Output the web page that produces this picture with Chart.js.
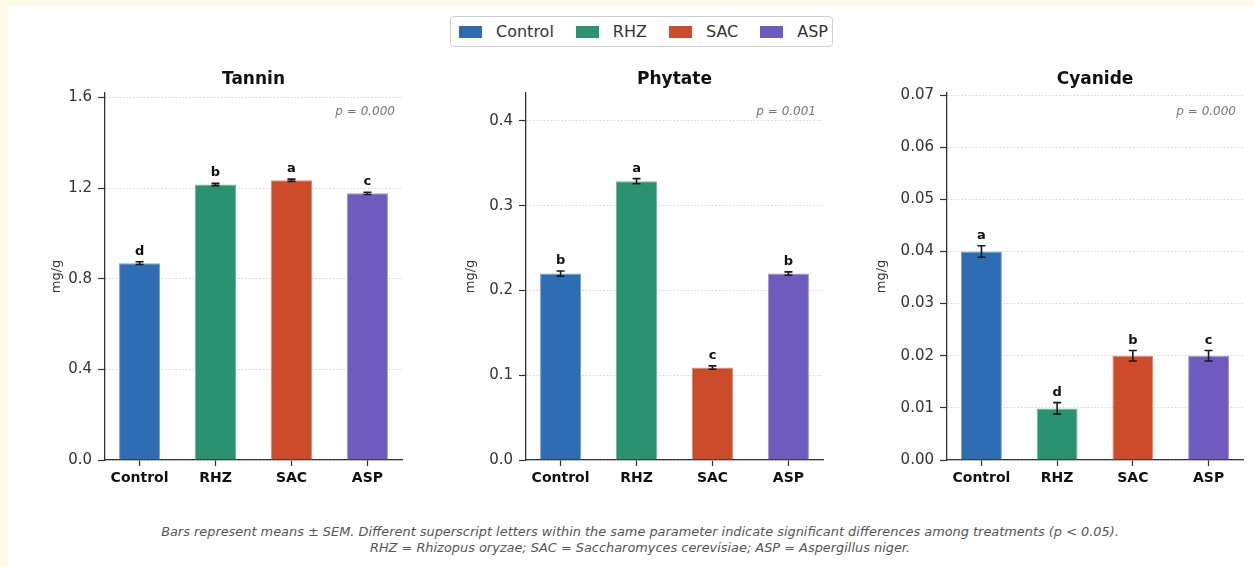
<!DOCTYPE html>
<html>
<head>
<meta charset="utf-8">
<script src="https://cdn.jsdelivr.net/npm/chart.js@4.4.1/dist/chart.umd.min.js"></script>
<style>
html, body { margin: 0; padding: 0; background: #fffbe6; width: 1255px; height: 567px; overflow: hidden; }
#page { position: absolute; left: 8px; top: 6px; width: 1247px; height: 561px; background: #ffffff; }
canvas { position: absolute; }
#legend { position: absolute; left: 450px; top: 16px; height: 29px; border: 1px solid #cfcfcf; border-radius: 4px;
  background: #fff; display: flex; align-items: center; padding: 0 4px 0 8px; box-sizing: content-box;
  font-family: "DejaVu Sans", sans-serif; font-size: 16px; color: #333; }
#legend .item { display: flex; align-items: center; margin-right: 22px; }
#legend .item:last-child { margin-right: 0; }
#legend .sw { width: 23px; height: 12px; margin-right: 14px; }
#foot { position: absolute; left: 0; width: 1280px; top: 524px; text-align: center;
  font-family: "DejaVu Sans", sans-serif; font-style: italic; font-size: 12.9px; line-height: 16px; color: #555; }
</style>
</head>
<body>
<div id="page"></div>
<div id="legend"></div>
<canvas id="c0"></canvas>
<canvas id="c1"></canvas>
<canvas id="c2"></canvas>
<div id="foot">Bars represent means ± SEM. Different superscript letters within the same parameter indicate significant differences among treatments (p &lt; 0.05).<br>RHZ = Rhizopus oryzae; SAC = Saccharomyces cerevisiae; ASP = Aspergillus niger.</div>
<script>
// ---- data ----
const categories = ['Control', 'RHZ', 'SAC', 'ASP'];
const barColors = ['#2E6DB4', '#2A9270', '#CC4C2A', '#6F5BBE'];
const panelTitles = ['Tannin', 'Phytate', 'Cyanide'];
const pLabels = ['p = 0.000', 'p = 0.001', 'p = 0.000'];

const tanninMeans = [0.869, 1.216, 1.235, 1.177];
const tanninSem = [0.006, 0.005, 0.005, 0.005];
const tanninLetters = ['d', 'b', 'a', 'c'];
const tanninTicks = [0.0, 0.4, 0.8, 1.2, 1.6];

const phytateMeans = [0.220, 0.329, 0.109, 0.220];
const phytateSem = [0.003, 0.003, 0.002, 0.002];
const phytateLetters = ['b', 'a', 'c', 'b'];
const phytateTicks = [0.0, 0.1, 0.2, 0.3, 0.4];

const cyanideMeans = [0.0400, 0.0099, 0.0200, 0.0200];
const cyanideSem = [0.0011, 0.0011, 0.0010, 0.0010];
const cyanideLetters = ['a', 'd', 'b', 'c'];
const cyanideTicks = [0.00, 0.01, 0.02, 0.03, 0.04, 0.05, 0.06, 0.07];

// ---- legend ----
const legendEl = document.getElementById('legend');
categories.forEach((c, i) => {
  const it = document.createElement('div'); it.className = 'item';
  const sw = document.createElement('div'); sw.className = 'sw'; sw.style.background = barColors[i];
  const tx = document.createElement('span'); tx.textContent = c;
  it.appendChild(sw); it.appendChild(tx); legendEl.appendChild(it);
});

const FONT = '"DejaVu Sans", sans-serif';

const panels = [
  { id: 'c0', left: 45, yw: 60, width: 367, means: tanninMeans, sem: tanninSem, letters: tanninLetters, ticks: tanninTicks, dec: 1, ymax: 1.62 },
  { id: 'c1', left: 459, yw: 67, width: 374, means: phytateMeans, sem: phytateSem, letters: phytateLetters, ticks: phytateTicks, dec: 1, ymax: 0.433 },
  { id: 'c2', left: 870, yw: 77, width: 383, means: cyanideMeans, sem: cyanideSem, letters: cyanideLetters, ticks: cyanideTicks, dec: 2, ymax: 0.0704 }
];
const CANVAS_TOP = 60, CANVAS_H = 440;

function lighten(hex, amt) {
  const n = parseInt(hex.slice(1), 16);
  const r = (n >> 16) & 255, g = (n >> 8) & 255, b = n & 255;
  const f = v => Math.round(v + (255 - v) * amt);
  return `rgb(${f(r)},${f(g)},${f(b)})`;
}

panels.forEach((p, k) => {
  const cv = document.getElementById(p.id);
  cv.width = p.width; cv.height = CANVAS_H;
  cv.style.left = p.left + 'px'; cv.style.top = CANVAS_TOP + 'px';
  cv.style.width = p.width + 'px'; cv.style.height = CANVAS_H + 'px';

  const annot = {
    id: 'annot' + k,
    afterDatasetsDraw(chart) {
      const { ctx, chartArea, scales: { x, y } } = chart;
      ctx.save();
      p.means.forEach((m, i) => {
        const px = x.getPixelForValue(i);
        const yt = y.getPixelForValue(m + p.sem[i]);
        const yb = y.getPixelForValue(m - p.sem[i]);
        ctx.strokeStyle = '#1a1a1a'; ctx.lineWidth = 1.6;
        ctx.beginPath();
        ctx.moveTo(px, yt); ctx.lineTo(px, yb);
        ctx.moveTo(px - 4, yt); ctx.lineTo(px + 4, yt);
        ctx.moveTo(px - 4, yb); ctx.lineTo(px + 4, yb);
        ctx.stroke();
        ctx.fillStyle = '#111';
        ctx.font = 'bold 13px ' + FONT;
        ctx.textAlign = 'center'; ctx.textBaseline = 'alphabetic';
        ctx.fillText(p.letters[i], px, yt - 7);
      });
      // p value
      ctx.fillStyle = '#777';
      ctx.font = 'italic 12px ' + FONT;
      ctx.textAlign = 'right'; ctx.textBaseline = 'middle';
      ctx.fillText(pLabels[k], chartArea.right - 7, chartArea.top + 19);
      // title
      ctx.fillStyle = '#111';
      ctx.font = 'bold 17px ' + FONT;
      ctx.textAlign = 'center'; ctx.textBaseline = 'middle';
      ctx.fillText(panelTitles[k], (chartArea.left + chartArea.right) / 2, 80 - CANVAS_TOP);
      ctx.restore();
    }
  };

  new Chart(cv, {
    type: 'bar',
    data: {
      datasets: [{
        data: p.means.map((v, i) => ({ x: i, y: v })),
        backgroundColor: barColors,
        borderColor: barColors.map(c => lighten(c, 0.35)),
        borderWidth: 1,
        barPercentage: 0.54,
        categoryPercentage: 1.0
      }]
    },
    options: {
      responsive: false,
      animation: false,
      devicePixelRatio: 1,
      layout: { padding: { top: 33, right: 10, left: 0, bottom: 0 } },
      plugins: { legend: { display: false }, tooltip: { enabled: false }, title: { display: false } },
      scales: {
        x: {
          type: 'linear',
          min: -0.455, max: 3.455,
          offset: false,
          afterBuildTicks: s => { s.ticks = categories.map((c, i) => ({ value: i })); },
          afterFit: s => { s.height = 40; },
          ticks: {
            callback: v => categories[v],
            font: { family: FONT, size: 14, weight: 'bold' },
            color: '#111',
            padding: 4,
            maxRotation: 0, autoSkip: false
          },
          grid: { display: true, drawOnChartArea: false, drawTicks: true, tickLength: 6, tickColor: '#333', tickWidth: 1.2, offset: false },
          border: { display: true, color: '#333', width: 1.3 }
        },
        y: {
          type: 'linear',
          min: 0, max: p.ymax,
          afterBuildTicks: s => { s.ticks = p.ticks.map(v => ({ value: v })); },
          afterFit: s => { s.width = p.yw; },
          ticks: {
            callback: v => Number(v).toFixed(p.dec),
            font: { family: FONT, size: 15 },
            color: '#333',
            padding: 6
          },
          grid: { display: true, drawOnChartArea: true, color: '#cfcfcf', lineWidth: 0.9, drawTicks: true, tickLength: 7, tickColor: '#333', tickWidth: 1.2 },
          border: { display: true, color: '#333', width: 1.3, dash: [1.5, 2] },
          title: { display: true, text: 'mg/g', font: { family: FONT, size: 13 }, color: '#333', padding: { top: 4, bottom: 0 } }
        }
      }
    },
    plugins: [annot]
  });
});
</script>
</body>
</html>
